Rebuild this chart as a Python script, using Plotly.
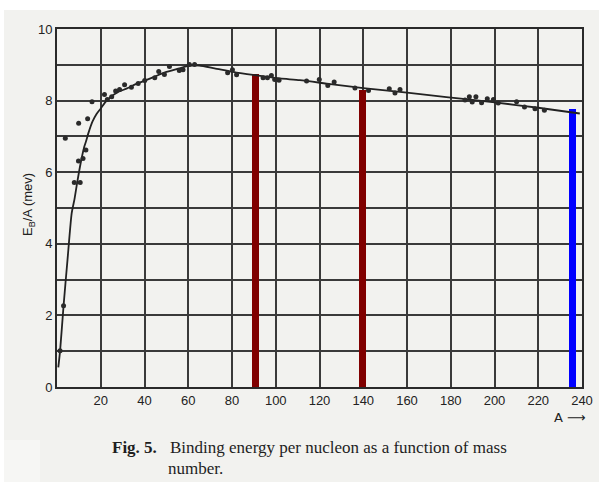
import plotly.graph_objects as go

# ---- data ----
point_A = [1.4, 3.0, 3.8, 7.9, 10.6, 9.8, 11.9, 13.2, 9.9, 14.0, 16.0, 21.7, 23.0, 25.0, 26.8,
           28.6, 30.9, 34.0, 37.1, 40.1, 44.7, 46.5, 49.1, 51.4, 55.9, 57.6, 60.5, 62.9,
           78.0, 80.2, 82.1, 94.2, 96.2, 98.0, 99.5, 101.5, 114.1, 119.9, 123.8, 126.7,
           136.2, 142.4, 151.9, 154.5, 156.8, 186.5, 188.5, 189.8, 191.5, 194.1, 196.7,
           199.5, 201.7, 210.1, 213.7, 218.5, 222.8]
point_E = [1.01, 2.27, 6.95, 5.71, 5.71, 6.31, 6.38, 6.62, 7.37, 7.49, 7.97, 8.17, 8.03, 8.11, 8.27,
           8.31, 8.44, 8.37, 8.48, 8.56, 8.64, 8.81, 8.73, 8.95, 8.84, 8.86, 9.01, 9.01,
           8.78, 8.86, 8.72, 8.64, 8.64, 8.70, 8.59, 8.57, 8.55, 8.59, 8.42, 8.52,
           8.35, 8.28, 8.33, 8.21, 8.31, 8.02, 8.11, 7.96, 8.11, 7.94, 8.05,
           8.03, 7.93, 7.97, 7.82, 7.77, 7.73]

curve_A = [0.6, 1.4, 3.0, 4.8, 6.7, 8.0, 9.2, 10.8, 12.4, 13.2, 14.5, 16.2, 18.0, 20.0, 22.0,
           24.5, 28.0, 32.0, 36.0, 41.0, 45.0, 50.0, 56.0, 60.0, 65.0, 72.0, 82.0, 92.0,
           102.0, 111.0, 125.0, 140.0, 160.0, 178.0, 200.0, 220.0, 239.0]
curve_E = [0.55, 1.0, 2.27, 3.55, 4.85, 5.25, 5.7, 6.25, 6.7, 6.85, 7.12, 7.41, 7.62, 7.78, 7.95,
           8.1, 8.24, 8.34, 8.46, 8.58, 8.68, 8.8, 8.9, 8.97, 8.98, 8.9, 8.78, 8.7,
           8.62, 8.57, 8.46, 8.35, 8.22, 8.10, 7.95, 7.80, 7.64]

bar_A = [90.7, 139.6, 235.7]
bar_E = [8.73, 8.31, 7.76]
bar_colors = ["#800000", "#800000", "#0000ff"]

x_ticks = [20, 40, 60, 80, 100, 120, 140, 160, 180, 200, 220, 240]
y_ticks = [0, 2, 4, 6, 8, 10]

# ---- figure ----
fig = go.Figure()
fig.add_trace(go.Bar(x=bar_A, y=bar_E, width=3.5, marker=dict(color=bar_colors, line=dict(width=0)),
                     showlegend=False, hoverinfo="skip"))
fig.add_trace(go.Scatter(x=curve_A, y=curve_E, mode="lines",
                         line=dict(color="#222222", width=1.8, shape="spline", smoothing=0.6),
                         showlegend=False))
fig.add_trace(go.Scatter(x=point_A, y=point_E, mode="markers",
                         marker=dict(color="#2a2a2a", size=5), showlegend=False))

L, R, T, B = 57, 17, 29, 95
W, H = 599, 482
pw, ph = W - L - R, H - T - B

def px2paper(px, py):
    return (px - L) / pw, (H - B - py) / ph

x0, y0 = px2paper(4, 482)
x1, y1 = px2paper(599, 10)
fig.add_shape(type="rect", xref="paper", yref="paper", x0=x0, y0=y0, x1=x1, y1=y1,
              fillcolor="#f2f2ef", line=dict(width=0), layer="below")
x0, y0 = px2paper(4, 482)
x1, y1 = px2paper(40, 440)
fig.add_shape(type="rect", xref="paper", yref="paper", x0=x0, y0=y0, x1=x1, y1=y1,
              fillcolor="#f6f6f4", line=dict(width=0), layer="below")

tick_font = dict(family="Liberation Sans, Arial, sans-serif", size=13, color="#222222")
grid = dict(gridcolor="#3a3a3a", gridwidth=1.6)
fig.update_xaxes(range=[0, 240], tickvals=x_ticks, ticks="", showgrid=True, automargin=False,
                 showline=True, linecolor="#2a2a2a",
                 linewidth=2, mirror=True, zeroline=False, tickfont=tick_font, **grid)
fig.update_yaxes(range=[0, 10], tickvals=y_ticks, ticks="", showgrid=True, automargin=False,
                 minor=dict(dtick=1, showgrid=True, ticks="", **grid),
                 showline=True, linecolor="#2a2a2a",
                 linewidth=2, mirror=True, zeroline=False, tickfont=tick_font, **grid)

ax, ay = px2paper(28, 205)
fig.add_annotation(text="E<sub>B</sub>/A (mev)", xref="paper", yref="paper", x=ax, y=ay,
                   xanchor="center", yanchor="middle",
                   textangle=-90, showarrow=False, font=tick_font)
ax, ay = px2paper(570, 417)
fig.add_annotation(text="A \u27F6", xref="paper", yref="paper", x=ax, y=ay,
                   xanchor="center", yanchor="middle", showarrow=False,
                   font=dict(family="DejaVu Sans, sans-serif", size=13, color="#222222"))
cap_font = dict(family="Liberation Serif, Times New Roman, serif", size=17, color="#1e1e1e")
ax, ay = px2paper(110, 447)
fig.add_annotation(text="<b>Fig. 5.</b>", xref="paper", yref="paper", x=ax, y=ay,
                   xanchor="left", yanchor="middle", showarrow=False, font=cap_font)
ax, ay = px2paper(168, 447)
fig.add_annotation(text="Binding energy per nucleon as a function of mass", xref="paper", yref="paper",
                   x=ax, y=ay, xanchor="left", yanchor="middle", showarrow=False, font=cap_font)
ax, ay = px2paper(166, 468)
fig.add_annotation(text="number.", xref="paper", yref="paper", x=ax, y=ay,
                   xanchor="left", yanchor="middle", showarrow=False, font=cap_font)

fig.update_layout(width=W, height=H, margin=dict(l=L, r=R, t=T, b=B, autoexpand=False),
                  paper_bgcolor="white", plot_bgcolor="rgba(0,0,0,0)", bargap=0)

fig.write_html("out.html")
